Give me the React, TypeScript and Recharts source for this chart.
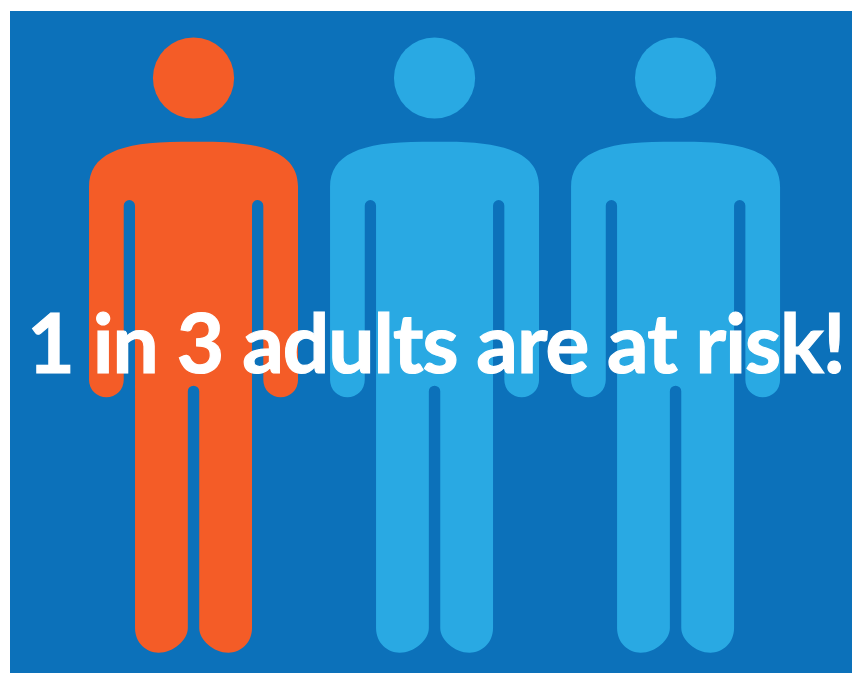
import React from "react";
import { ScatterChart, Scatter, XAxis, YAxis, Cell } from "recharts";

// One figure per adult, flagged when that adult is at risk.
const positions = [1, 2, 3];
const atRisk = [true, false, false];
const headline = "1 in 3 adults are at risk!";

const people = positions.map((position, i) => ({ position, row: 1, atRisk: atRisk[i] }));
const headlineAnchor = [{ position: 2.0062, row: 1 }];

const BACKGROUND = "#0C71BA";
const RISK_COLOR = "#F45C27";
const SAFE_COLOR = "#29A9E3";

// Outline of the standing figure, centred on x = 0.
const BODY_PATH = [
  "M -12 141.7",
  "C -75 141.7 -104.5 155 -104.5 187",
  "L -104.5 380",
  "A 17.35 17.35 0 0 0 -69.8 380",
  "L -69.8 205.65",
  "A 5.65 5.65 0 0 1 -58.5 205.65",
  "L -58.5 628",
  "C -58.5 643 -47 652.7 -35 652.7",
  "C -20 652.7 -5.7 640 -5.7 628",
  "L -5.7 391.35",
  "A 5.7 5.7 0 0 1 5.7 391.35",
  "L 5.7 628",
  "C 5.7 640 20 652.7 35 652.7",
  "C 47 652.7 58.5 643 58.5 628",
  "L 58.5 205.65",
  "A 5.65 5.65 0 0 1 69.8 205.65",
  "L 69.8 380",
  "A 17.35 17.35 0 0 0 104.5 380",
  "L 104.5 187",
  "C 104.5 155 75 141.7 12 141.7",
  "Z",
].join(" ");

// The figure's own coordinates put the vertical anchor at y = 342.
const ANCHOR_Y = 342;

function Person(props: any) {
  const { cx, cy, fill } = props;
  return (
    <g transform={`translate(${cx}, ${cy - ANCHOR_Y})`} fill={fill}>
      <circle cx={0} cy={78} r={40.6} />
      <path d={BODY_PATH} />
    </g>
  );
}

function Headline(props: any) {
  const { cx, cy } = props;
  return (
    <text
      x={cx}
      y={cy + 31}
      textAnchor="middle"
      fill="#FFFFFF"
      stroke="#FFFFFF"
      strokeWidth={1.2}
      fontFamily="Lato, sans-serif"
      fontWeight={700}
      fontSize={82}
      letterSpacing={-1}
    >
      {headline}
    </text>
  );
}

export default function App() {
  return (
    <div style={{ position: "absolute", left: 10, top: 11, width: 842, height: 662, background: BACKGROUND }}>
      <ScatterChart width={842} height={662} margin={{ top: 0, right: 0, bottom: 0, left: 0 }}>
        <XAxis type="number" dataKey="position" domain={[0.2386, 3.732]} hide />
        <YAxis type="number" dataKey="row" domain={[0, 2]} hide />
        <Scatter data={people} shape={Person} isAnimationActive={false}>
          {people.map((p) => (
            <Cell key={p.position} fill={p.atRisk ? RISK_COLOR : SAFE_COLOR} />
          ))}
        </Scatter>
        <Scatter data={headlineAnchor} shape={Headline} isAnimationActive={false} />
      </ScatterChart>
    </div>
  );
}
